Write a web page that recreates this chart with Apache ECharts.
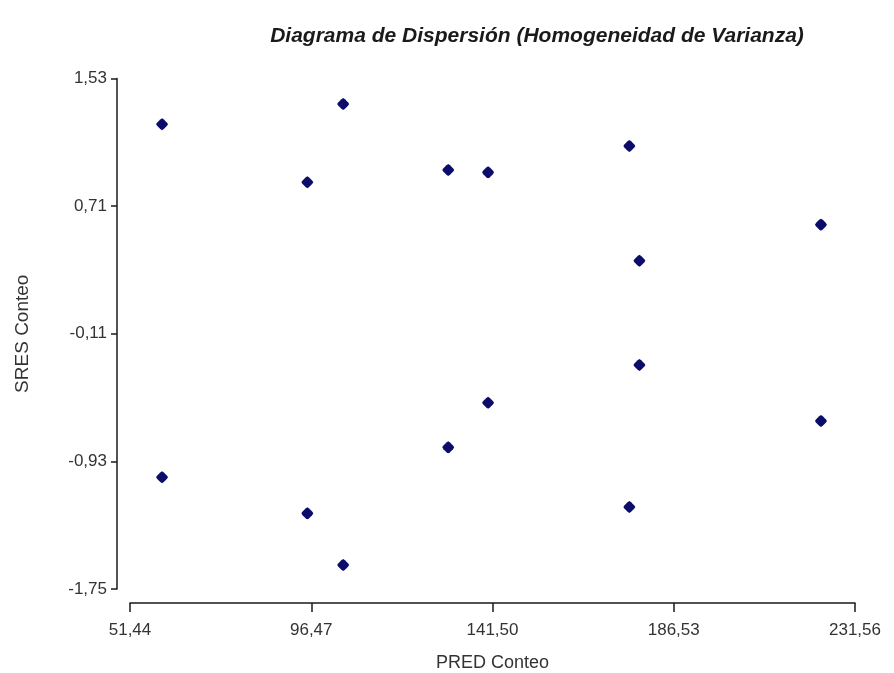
<!DOCTYPE html>
<html>
<head>
<meta charset="utf-8">
<script src="https://cdn.jsdelivr.net/npm/echarts@6/dist/echarts.min.js"></script>
<style>
  html, body { margin: 0; padding: 0; background: #ffffff; }
  #chart { width: 894px; height: 673px; }
</style>
</head>
<body>
<div id="chart"></div>
<script>
// Predicted values and standardized residuals
var predConteo = [59.4, 104.4, 95.5, 130.5, 140.4, 175.5, 223.1, 178.0,
                  178.0, 140.4, 130.5, 223.1, 59.4, 95.5, 104.4, 175.5];
var sresConteo = [1.236, 1.366, 0.863, 0.942, 0.927, 1.096, 0.591, 0.359,
                  -0.311, -0.553, -0.840, -0.671, -1.032, -1.264, -1.596, -1.223];

// Axis tick values
var xTicks = [51.44, 96.47, 141.50, 186.53, 231.56];
var yTicks = [-1.75, -0.93, -0.11, 0.71, 1.53];

var points = predConteo.map(function (x, i) { return [x, sresConteo[i]]; });

function fmt(v) { return v.toFixed(2).replace('.', ','); }

var FONT = '"Liberation Sans", Arial, sans-serif';
var TEXT = '#333333';
// Slightly rounded diamond marker
var MARKER = 'path://M5,0 L6.5,1 L9,3.5 L10,5 L9,6.5 L6.5,9 L5,10 L3.5,9 L1,6.5 L0,5 L1,3.5 L3.5,1 Z';

var chart = echarts.init(document.getElementById('chart'), null, { renderer: 'canvas' });
chart.setOption({
  backgroundColor: '#ffffff',
  animation: false,
  title: {
    text: 'Diagrama de Dispersión (Homogeneidad de Varianza)',
    left: 532,
    top: 21,
    textAlign: 'center',
    textStyle: { fontFamily: FONT, fontSize: 21, fontWeight: 'bold', fontStyle: 'italic', color: '#1a1a1a' }
  },
  grid: { left: 130, right: 39, top: 78.5, bottom: 84, containLabel: false, outerBoundsMode: 'none' },
  xAxis: {
    type: 'value',
    min: xTicks[0],
    max: xTicks[xTicks.length - 1],
    offset: 14,
    name: 'PRED Conteo',
    nameLocation: 'middle',
    nameGap: 51,
    nameTextStyle: { fontFamily: FONT, fontSize: 18, color: TEXT },
    axisLine: { show: true, onZero: false, lineStyle: { color: '#1a1a1a', width: 1.5 } },
    axisTick: { show: true, length: 9, customValues: xTicks, lineStyle: { color: '#1a1a1a', width: 1.5 } },
    axisLabel: { customValues: xTicks, margin: 19, fontFamily: FONT, fontSize: 17, color: TEXT, formatter: fmt },
    splitLine: { show: false }
  },
  yAxis: {
    type: 'value',
    min: yTicks[0],
    max: yTicks[yTicks.length - 1],
    offset: 13,
    name: 'SRES Conteo',
    nameLocation: 'middle',
    nameGap: 85,
    nameTextStyle: { fontFamily: FONT, fontSize: 19, color: TEXT },
    axisLine: { show: true, onZero: false, lineStyle: { color: '#1a1a1a', width: 1.5 } },
    axisTick: { show: true, length: 6, customValues: yTicks, lineStyle: { color: '#1a1a1a', width: 1.5 } },
    axisLabel: { customValues: yTicks, margin: 10, fontFamily: FONT, fontSize: 17, color: TEXT, formatter: fmt },
    splitLine: { show: false }
  },
  series: [{
    type: 'scatter',
    data: points,
    symbol: MARKER,
    symbolSize: 12,
    itemStyle: { color: '#0c0c6a', opacity: 1 }
  }]
});
</script>
</body>
</html>
